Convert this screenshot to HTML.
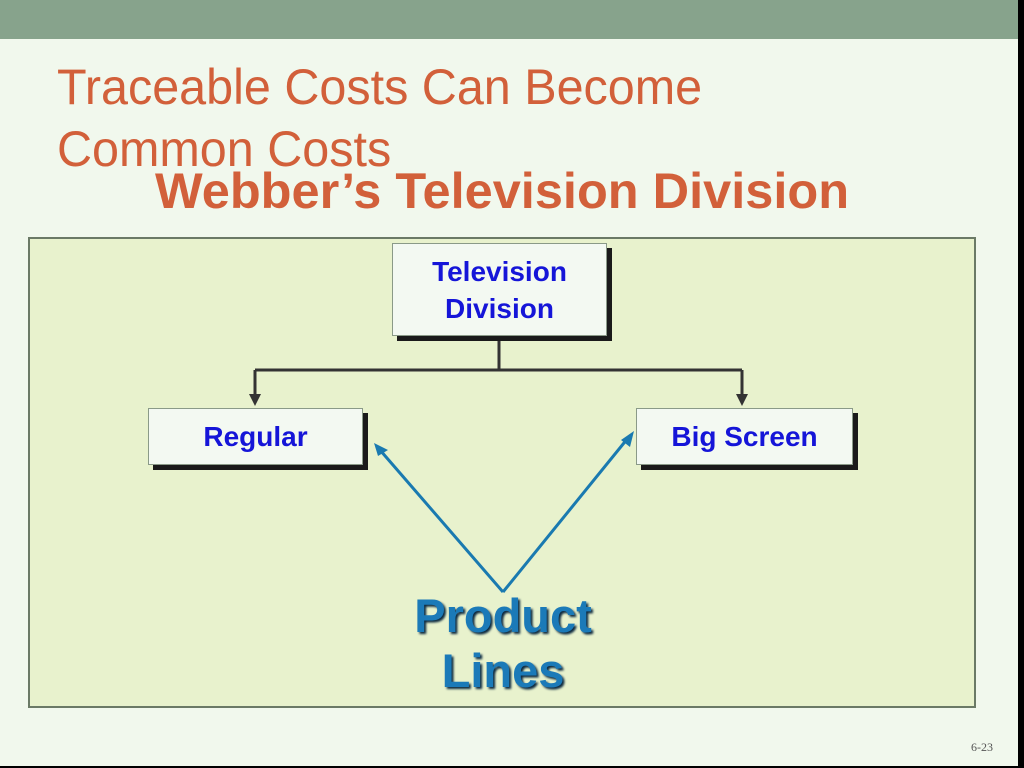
<!DOCTYPE html>
<html><head><style>
body{margin:0;width:1024px;height:768px;overflow:hidden;background:#000;position:relative;font-family:"Liberation Sans",sans-serif}
#bg{position:absolute;left:0;top:0;width:1018px;height:766px;background:#f1f8ed}
#top{position:absolute;left:0;top:0;width:1018px;height:39px;background:#87a38c}
.t{position:absolute;color:#d2603a;white-space:nowrap;transform-origin:0 0}
#panel{position:absolute;left:28px;top:237px;width:944px;height:467px;background:#e8f2cd;border:2px solid #6b7a66}
.box{position:absolute;background:#f3f9f2;border:1px solid #8a9a88;box-shadow:5px 5px 0 #1a1a1a;color:#1515d8;font-weight:bold;font-size:28px;text-align:center;display:flex;align-items:center;justify-content:center;line-height:37px}
.pl{position:absolute;color:#1b7ab8;font-weight:bold;font-size:47px;text-align:center;width:300px;left:353px;text-shadow:2px 2px 2px #0d2a40}
</style></head><body>
<div id="bg"></div><div id="top"></div>
<div class="t" style="left:57px;top:58px;font-size:50px;transform:scaleX(0.97)">Traceable Costs Can Become</div>
<div class="t" style="left:57px;top:120px;font-size:50px;transform:scaleX(0.97)">Common Costs</div>
<div class="t" style="left:155px;top:162px;font-size:50px;font-weight:bold;transform:scaleX(1.01)">Webber’s Television Division</div>
<div id="panel"></div>
<svg style="position:absolute;left:0;top:0" width="1024" height="768">
<g stroke="#333" stroke-width="3" fill="none"><path d="M499 336V370M255 370H742M255 370V396M742 370V396"/></g>
<polygon points="249,394 261,394 255,406" fill="#333"/><polygon points="736,394 748,394 742,406" fill="#333"/>
<g stroke="#1a7ab0" stroke-width="3" fill="none"><path d="M503 592L380 450M503 592L628 438"/></g>
<polygon points="374,443 388,450 378,456" fill="#1a7ab0"/><polygon points="634,431 630,447 621,440" fill="#1a7ab0"/>
</svg>
<div class="box" style="left:392px;top:243px;width:213px;height:91px">Television<br>Division</div>
<div class="box" style="left:148px;top:408px;width:213px;height:55px">Regular</div>
<div class="box" style="left:636px;top:408px;width:215px;height:55px">Big Screen</div>
<div class="pl" style="top:588px">Product</div>
<div class="pl" style="top:643px">Lines</div>
<div style="position:absolute;left:971px;top:740px;font-family:'Liberation Serif',serif;font-size:12px;color:#555">6-23</div>
</body></html>
